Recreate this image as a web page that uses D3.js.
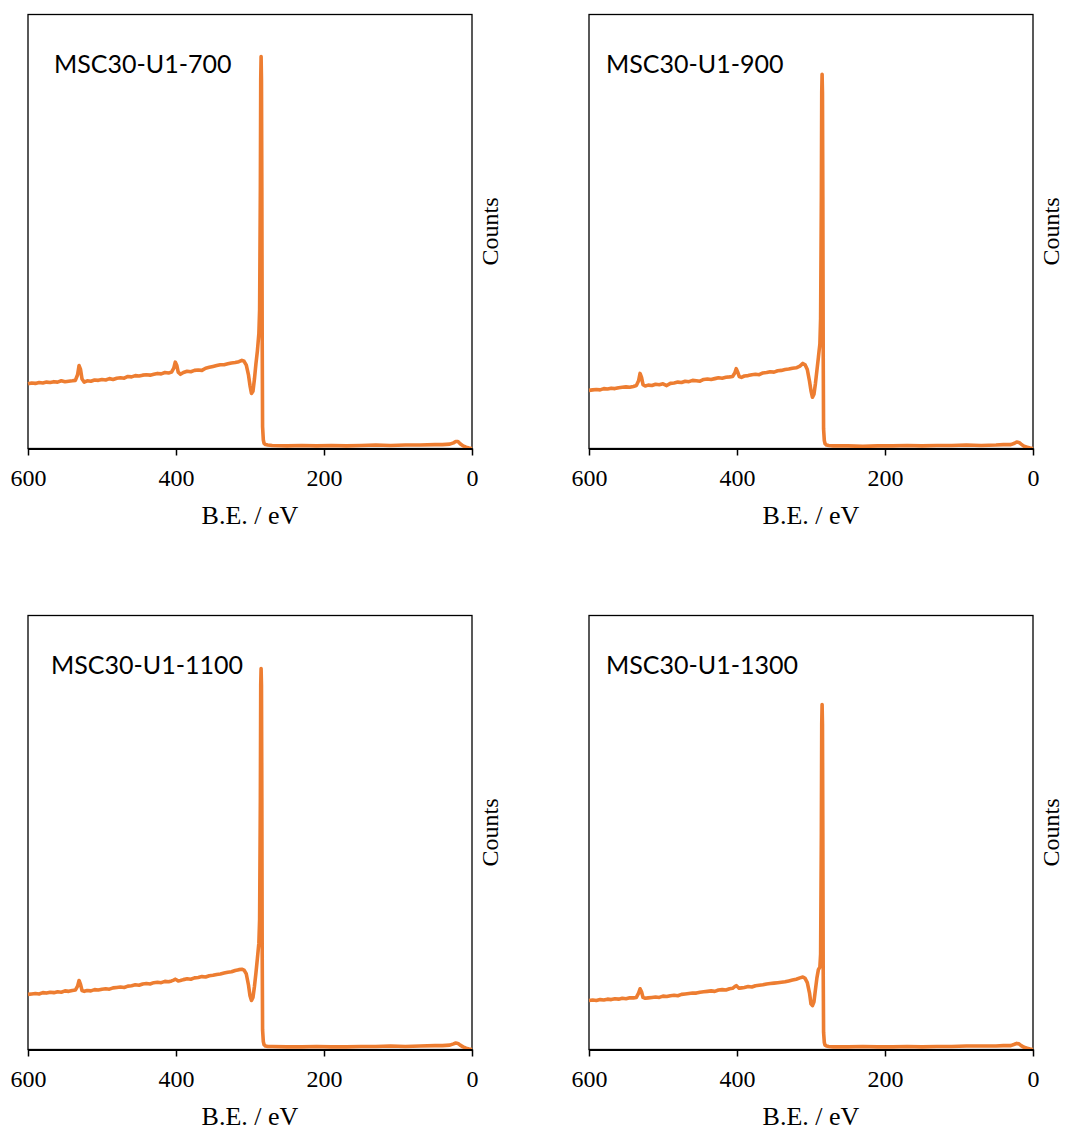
<!DOCTYPE html>
<html>
<head>
<meta charset="utf-8">
<script src="https://cdn.jsdelivr.net/npm/d3@7"></script>
<style>
  body { margin: 0; background: #fff; }
</style>
</head>
<body>
<svg id="chart"></svg>
<script>
// binding energy grid (eV), shared by all four spectra
const energy = [
  600, 595, 590, 585, 580, 575, 570, 565, 560, 555, 550, 545, 540,
  536, 533, 531, 529, 527, 524, 520,
  515, 510, 505, 500, 495, 490, 485, 480, 475, 470, 465, 460, 455, 450, 445, 440, 435, 430, 425, 420, 415, 410,
  406, 403, 401, 399, 397, 394,
  390, 385, 380, 375, 370, 365, 360, 355, 350, 345, 340, 335, 330, 325, 320, 315,
  311, 308, 305, 302, 300, 298, 296, 294, 292, 290, 289, 288, 287, 286, 285.5, 285, 284.5, 284, 283.5, 283, 282, 281, 279, 276,
  270, 250, 230, 210, 190, 170, 150, 130, 110, 90, 70, 50,
  40, 30, 25, 22, 19, 16, 12, 8, 4, 0
];

// counts (arbitrary units, 100 = top of frame)
const counts700 = [
  14.9, 15.1, 15.0, 15.2, 15.1, 15.3, 15.2, 15.4, 15.3, 15.6, 15.4, 15.5, 15.6,
  15.7, 17.0, 19.1, 18.2, 16.0, 15.3, 15.6,
  15.5, 15.8, 15.7, 15.9, 15.8, 16.1, 15.9, 16.2, 16.3, 16.2, 16.6, 16.5, 16.8, 16.7, 16.9, 17.0, 16.9, 17.1, 17.3, 17.2, 17.5, 17.4,
  17.6, 18.5, 19.9, 19.2, 17.6, 17.1,
  17.5, 17.8, 17.7, 18.0, 18.1, 18.0, 18.5, 18.7, 18.9, 19.1, 19.3, 19.3, 19.5, 19.7, 19.8, 20.0,
  20.3, 20.1, 19.2, 16.9, 14.5, 12.7, 13.2, 16.0, 19.5, 22.5, 24.5, 26.5, 32.0, 60.0, 85.0, 90.3, 85.0, 60.0, 25.0, 5.0, 2.0, 1.2, 0.9, 0.8,
  0.7, 0.6, 0.7, 0.6, 0.7, 0.6, 0.7, 0.8, 0.7, 0.8, 0.8, 0.9,
  0.9, 1.0, 1.3, 1.6, 1.6, 1.1, 0.6, 0.3, 0.1, 0.0
];
const counts900 = [
  13.4, 13.5, 13.6, 13.5, 13.8, 13.7, 13.9, 13.8, 14.0, 14.1, 14.2, 14.1, 14.3,
  14.5, 15.6, 17.3, 16.4, 14.7, 14.4, 14.6,
  14.5, 14.8, 14.7, 14.9, 14.5, 15.0, 15.1, 15.3, 15.2, 15.5, 15.4, 15.7, 15.6, 15.5, 15.9, 16.0, 15.9, 16.1, 16.3, 16.2, 16.4, 16.5,
  16.6, 17.4, 18.4, 17.6, 16.6, 16.4,
  16.7, 16.8, 17.0, 17.1, 17.0, 17.4, 17.5, 17.7, 17.6, 17.9, 18.0, 18.2, 18.3, 18.5, 18.6, 19.0,
  19.6, 19.3, 18.2, 15.5, 13.3, 11.8, 12.5, 15.0, 18.0, 21.0, 22.6, 24.0, 30.0, 58.0, 82.0, 86.2, 82.0, 58.0, 22.0, 4.5, 1.8, 1.1, 0.8, 0.7,
  0.6, 0.6, 0.5, 0.6, 0.6, 0.7, 0.6, 0.7, 0.7, 0.8, 0.7, 0.8,
  0.9, 0.9, 1.2, 1.5, 1.4, 1.0, 0.5, 0.3, 0.1, 0.0
];
const counts1100 = [
  12.7, 12.8, 12.9, 12.8, 13.1, 13.0, 13.2, 13.1, 13.3, 13.2, 13.5, 13.4, 13.6,
  13.7, 14.6, 15.9, 15.0, 13.6, 13.4, 13.6,
  13.5, 13.8, 13.7, 13.9, 14.0, 13.9, 14.2, 14.3, 14.4, 14.3, 14.6, 14.7, 14.9, 14.8, 15.1, 15.2, 15.1, 15.4, 15.5, 15.4, 15.7, 15.6,
  15.8, 16.0, 16.2, 16.0, 15.8, 15.9,
  16.1, 16.3, 16.2, 16.5, 16.6, 16.8, 16.7, 17.0, 17.1, 17.3, 17.4, 17.6, 17.8, 17.9, 18.2, 18.4,
  18.5, 18.3, 17.4, 14.8, 12.4, 11.3, 12.0, 14.5, 17.6, 21.0, 22.8, 24.5, 30.0, 58.0, 84.0, 87.8, 84.0, 58.0, 22.0, 4.5, 1.8, 1.1, 0.8, 0.7,
  0.7, 0.6, 0.6, 0.7, 0.6, 0.6, 0.7, 0.7, 0.8, 0.7, 0.8, 0.9,
  0.9, 1.0, 1.3, 1.5, 1.4, 1.0, 0.6, 0.3, 0.1, 0.0
];
const counts1300 = [
  11.3, 11.4, 11.3, 11.5, 11.4, 11.6, 11.5, 11.7, 11.6, 11.8, 11.7, 11.9, 11.9,
  12.0, 13.0, 14.0, 13.3, 12.0, 11.8, 11.9,
  12.0, 12.1, 12.0, 12.3, 12.2, 12.4, 12.5, 12.4, 12.7, 12.8, 12.9, 13.0, 13.0, 13.2, 13.3, 13.4, 13.5, 13.4, 13.7, 13.8, 13.7, 14.0,
  14.1, 14.5, 14.7, 14.4, 14.1, 14.2,
  14.3, 14.5, 14.4, 14.7, 14.8, 14.9, 15.1, 15.2, 15.3, 15.4, 15.5, 15.6, 15.8, 16.0, 16.2, 16.5,
  16.7, 16.4, 15.4, 13.0, 10.5, 10.1, 11.0, 13.8, 16.5, 18.4, 18.7, 19.0, 22.0, 50.0, 75.0, 79.5, 75.0, 50.0, 18.0, 4.0, 1.6, 1.0, 0.8, 0.7,
  0.6, 0.6, 0.7, 0.6, 0.6, 0.7, 0.6, 0.7, 0.7, 0.8, 0.8, 0.8,
  0.9, 0.9, 1.2, 1.4, 1.3, 0.9, 0.5, 0.3, 0.1, 0.0
];

const sampleNames = ["MSC30-U1-700", "MSC30-U1-900", "MSC30-U1-1100", "MSC30-U1-1300"];
const xTicks = [600, 400, 200, 0];
const xLabel = "B.E. / eV";
const yLabel = "Counts";

const series = [counts700, counts900, counts1100, counts1300];

// panel placement
const W = 1065, H = 1131;
const pw = 444, ph = 434;
const panels = [
  { left: 28,  top: 14.5, titleDx: 26 },
  { left: 589, top: 14.5, titleDx: 17 },
  { left: 28,  top: 615.5, titleDx: 23 },
  { left: 589, top: 615.5, titleDx: 17 }
];

const svg = d3.select("#chart")
  .attr("width", W)
  .attr("height", H);

const x = d3.scaleLinear().domain([600, 0]).range([0, pw]);
const y = d3.scaleLinear().domain([0, 100]).range([ph, 0]);

const line = d3.line()
  .x(d => x(d[0]))
  .y(d => y(d[1]));

panels.forEach((p, i) => {
  const g = svg.append("g").attr("transform", `translate(${p.left},${p.top})`);

  // frame
  g.append("rect")
    .attr("width", pw)
    .attr("height", ph)
    .attr("fill", "none")
    .attr("stroke", "#000")
    .attr("stroke-width", 1.3);

  // spectrum
  g.append("path")
    .datum(energy.map((e, k) => [e, series[i][k]]))
    .attr("fill", "none")
    .attr("stroke", "#ED7D31")
    .attr("stroke-width", 3.6)
    .attr("stroke-linejoin", "round")
    .attr("d", line);

  // bottom axis
  const ax = g.append("g")
    .attr("transform", `translate(0,${ph})`)
    .call(d3.axisBottom(x).tickValues(xTicks).tickSize(7).tickSizeOuter(0).tickPadding(13));
  ax.select(".domain").attr("stroke", "#000").attr("stroke-width", 2);
  ax.selectAll(".tick line").attr("stroke", "#000").attr("stroke-width", 1.5);
  ax.selectAll(".tick text")
    .attr("fill", "#000")
    .style("font-family", "'Liberation Serif', 'Times New Roman', serif")
    .style("font-size", "24px");

  // x axis title
  g.append("text")
    .attr("x", pw / 2)
    .attr("y", ph + 75)
    .attr("text-anchor", "middle")
    .style("font-family", "'Liberation Serif', 'Times New Roman', serif")
    .style("font-size", "26px")
    .text(xLabel);

  // y axis title on the right
  g.append("text")
    .attr("transform", `translate(${pw + 26},${ph / 2}) rotate(-90)`)
    .attr("text-anchor", "middle")
    .style("font-family", "'Liberation Serif', 'Times New Roman', serif")
    .style("font-size", "24px")
    .text(yLabel);

  // sample name
  g.append("text")
    .attr("x", p.titleDx)
    .attr("y", 58)
    .style("font-family", "Lato, 'Open Sans', sans-serif")
    .style("font-size", "25px")
    .text(sampleNames[i]);
});
</script>
</body>
</html>
